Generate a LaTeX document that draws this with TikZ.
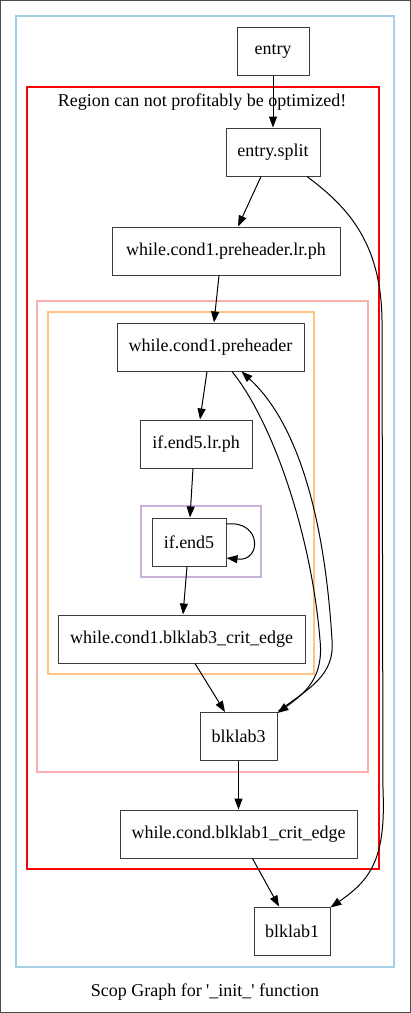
\documentclass[tikz,border=0pt]{standalone}
\usepackage{fontspec}
\setmainfont{Liberation Serif}
\usetikzlibrary{arrows.meta}
\definecolor{clusblue}{RGB}{166,206,230}
\definecolor{clusred}{RGB}{255,0,0}
\definecolor{clussalmon}{RGB}{250,175,175}
\definecolor{clusorange}{RGB}{255,196,130}
\definecolor{cluspurple}{RGB}{200,178,220}
\definecolor{nodegray}{RGB}{60,60,60}
\tikzset{
  blk/.style={draw=nodegray, line width=1pt, rectangle, inner sep=0pt, minimum height=48pt, font=\fontsize{18}{20}\selectfont},
  lbl/.style={inner sep=0pt, font=\fontsize{18}{20}\selectfont},
  edge/.style={draw=black, line width=1pt, -{Triangle[length=11pt,width=8pt]}},
  clus/.style={line width=1.1pt}
}
\begin{document}
\begin{tikzpicture}[x=1pt,y=-1pt]
\useasboundingbox (0,0) rectangle (411,1013);
\draw[draw=black!70, line width=1pt] (0.5,0.5) rectangle (410.5,1012.5);
% clusters
\draw[clus, draw=clusblue] (16,16) rectangle (394,967);
\draw[clus, draw=clusred] (27,87) rectangle (379,869);
\draw[clus, draw=clussalmon] (37,301) rectangle (368,772);
\draw[clus, draw=clusorange] (48,312) rectangle (314,674);
\draw[clus, draw=cluspurple] (141,506) rectangle (261,577);
\node[lbl] (rtitle) at (202,102) {Region can not profitably be optimized!};
\node[lbl] (caption) at (205,992) {Scop Graph for \textquotesingle\_init\_\textquotesingle{} function};
% nodes
\node[blk, minimum width=72pt] (entry) at (273,51) {entry};
\node[blk, minimum width=94pt] (split) at (273,152) {entry.split};
\node[blk, minimum width=228pt] (lrph) at (226,251) {while.cond1.preheader.lr.ph};
\node[blk, minimum width=187pt] (pre) at (210.5,347) {while.cond1.preheader};
\node[blk, minimum width=112pt] (e5lr) at (196,444) {if.end5.lr.ph};
\node[blk, minimum width=74pt] (e5) at (189,542) {if.end5};
\node[blk, minimum width=247pt] (crit3) at (181.5,639) {while.cond1.blklab3\_crit\_edge};
\node[blk, minimum width=77pt] (b3) at (238.5,736.5) {blklab3};
\node[blk, minimum width=237pt] (crit1) at (238.5,834) {while.cond.blklab1\_crit\_edge};
\node[blk, minimum width=76pt] (b1) at (292,931) {blklab1};
% edges
\draw[edge] (entry.south) -- (split.north);
\draw[edge] ([xshift=-12pt]split.south) -- ([xshift=12pt]lrph.north);
\draw[edge] ([xshift=34pt]split.south) .. controls (345,205) and (381,240) .. (382,320)
  -- (383,790) .. controls (386,860) and (370,880) .. ([yshift=-1pt]b1.north east);
\draw[edge] ([xshift=-7pt]lrph.south) -- ([xshift=3.5pt]pre.north);
\draw[edge] ([xshift=-3.5pt]pre.south) -- ([xshift=4pt]e5lr.north);
\draw[edge] ([xshift=-3pt]e5lr.south) -- ([xshift=1pt]e5.north);
\draw[edge] ([yshift=18pt]e5.east) .. controls (262,520) and (262,562) .. ([yshift=-16pt]e5.east);
\draw[edge] ([xshift=-2pt]e5.south) -- ([xshift=1.5pt]crit3.north);
\draw[edge] ([xshift=13.5pt]crit3.south) -- ([xshift=-13.5pt]b3.north);
\draw[edge] ([xshift=21.5pt]pre.south) .. controls (275,425) and (312,540) .. (320,640)
  .. controls (324,678) and (305,693) .. ([yshift=-1pt]b3.north east);
\draw[edge] ([xshift=1pt,yshift=1pt]b3.north east) .. controls (310,688) and (335,675) .. (332,640)
  .. controls (326,540) and (305,430) .. ([xshift=31pt]pre.south);
\draw[edge] (b3.south) -- (crit1.north);
\draw[edge] ([xshift=14pt]crit1.south) -- ([xshift=-13pt]b1.north);
\end{tikzpicture}
\end{document}
